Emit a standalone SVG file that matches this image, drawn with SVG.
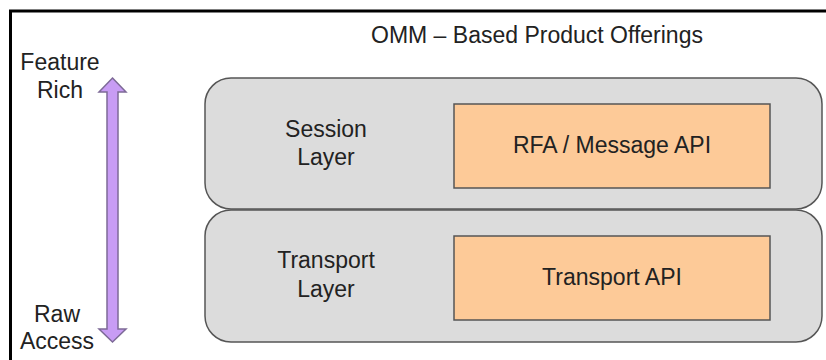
<svg xmlns="http://www.w3.org/2000/svg" width="826" height="360" viewBox="0 0 826 360">
<style>
text{font-family:"Liberation Sans",Arial,sans-serif;font-size:23px;fill:#222;text-anchor:middle}
.layer{fill:#dcdcdc;stroke:#555;stroke-width:1.5}
.api{fill:#fdca98;stroke:#555;stroke-width:1.5}
.frame{stroke:#000;stroke-width:3;fill:none}
.arrow{fill:#c89cf4;stroke:#7d6a97;stroke-width:1.5}
</style>
<rect width="826" height="360" fill="#fff"/>
<path class="frame" d="M10.5,360 V11 H826"/>
<text x="537" y="43">OMM – Based Product Offerings</text>
<g id="labels-left">
<text x="60" y="70">Feature</text>
<text x="60" y="98">Rich</text>
<text x="57" y="322">Raw</text>
<text x="57" y="349">Access</text>
</g>
<g id="connectors">
<path class="arrow" d="M112.5,78 L126,92 L118,92 L118,329 L126,329 L112.5,342 L99,329 L107,329 L107,92 L99,92 Z"/>
</g>
<g id="session-layer">
<rect class="layer" x="205" y="78" width="617" height="131" rx="26" ry="26"/>
<text x="326" y="137">Session</text>
<text x="326" y="165">Layer</text>
</g>
<g id="transport-layer">
<rect class="layer" x="205" y="210" width="617" height="132" rx="26" ry="26"/>
<text x="326" y="268">Transport</text>
<text x="326" y="297">Layer</text>
</g>
<g id="rfa-api">
<rect class="api" x="454" y="104" width="316" height="84"/>
<text x="612" y="153">RFA / Message API</text>
</g>
<g id="transport-api">
<rect class="api" x="454" y="236" width="316" height="84"/>
<text x="612" y="285">Transport API</text>
</g>
</svg>
